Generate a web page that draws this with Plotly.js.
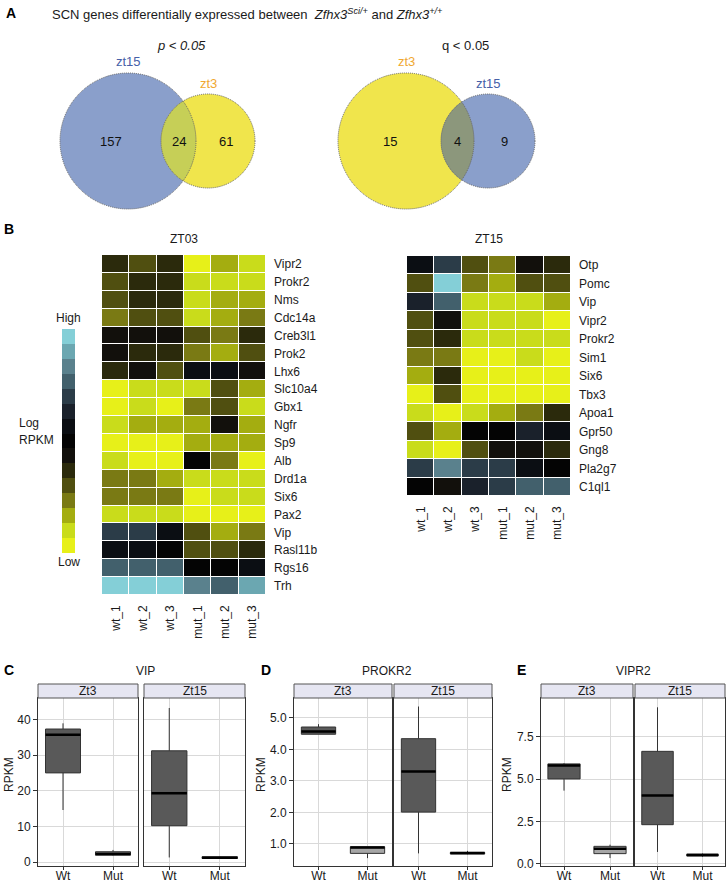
<!DOCTYPE html>
<html><head><meta charset="utf-8">
<script src="https://cdn.plot.ly/plotly-3.0.1.min.js"></script>
<style>html,body{margin:0;padding:0;background:#fff}#chart{width:726px;height:884px}</style>
</head><body><div id="chart"></div>
<script>
const W = 726, H = 884;
const px = x => x / W, py = y => 1 - y / H;
const FONT = 'Liberation Sans, Arial, Helvetica, sans-serif';

// ---------- Panel A: Venn counts ----------
const vennPSets = ['zt15', 'zt3'];
const vennPCounts = [157, 24, 61];   // zt15 only, both, zt3 only
const vennQSets = ['zt3', 'zt15'];
const vennQCounts = [15, 4, 9];      // zt3 only, both, zt15 only

// ---------- Panel B: heatmaps (colour level 0 = low ... 14 = high) ----------
const sampleLabels = ['wt_1', 'wt_2', 'wt_3', 'mut_1', 'mut_2', 'mut_3'];
const zt03Genes = ['Vipr2','Prokr2','Nms','Cdc14a','Creb3l1','Prok2','Lhx6','Slc10a4','Gbx1','Ngfr','Sp9','Alb','Drd1a','Six6','Pax2','Vip','Rasl11b','Rgs16','Trh'];
const zt03Levels = [
  [5,4,5,0,2,1],
  [4,5,5,1,1,1],
  [4,5,5,1,2,2],
  [3,4,4,1,2,3],
  [6,6,6,4,3,5],
  [6,5,5,3,2,4],
  [5,6,4,8,8,6],
  [0,1,1,1,4,2],
  [0,1,0,3,4,1],
  [1,2,2,2,6,2],
  [0,0,0,2,2,2],
  [1,0,0,7,3,0],
  [3,3,2,1,1,1],
  [3,3,3,0,1,1],
  [1,1,1,0,0,0],
  [10,10,8,4,2,3],
  [8,8,7,4,4,5],
  [11,11,11,7,7,8],
  [14,14,14,12,11,13]
];
const zt15Genes = ['Otp','Pomc','Vip','Vipr2','Prokr2','Sim1','Six6','Tbx3','Apoa1','Gpr50','Gng8','Pla2g7','C1ql1'];
const zt15Levels = [
  [8,10,4,3,6,5],
  [4,14,3,2,4,4],
  [9,11,1,1,1,2],
  [4,6,1,1,1,0],
  [4,5,1,1,1,1],
  [3,3,0,0,1,0],
  [2,5,0,0,0,0],
  [0,4,0,0,0,0],
  [1,0,1,2,3,5],
  [4,2,7,7,9,8],
  [1,0,4,6,6,5],
  [10,12,10,10,8,7],
  [7,6,9,10,11,11]
];
const levelColors = ['#e7f019','#c9dc1b','#a4ad10','#7a7a14','#504f10','#2b2a0c','#12100c','#040404',
                     '#0b0e13','#1a212b','#2b3c48','#42606c','#5a818d','#6ba7b1','#84cfd7'];

// ---------- Panels C-E: box statistics [lower, q1, median, q3, upper] ----------
const boxGroups = ['Wt', 'Mut'];
const vipZt3Wt = [14.6, 25.0, 35.7, 37.3, 38.9];
const vipZt3Mut = [1.7, 1.9, 2.3, 2.9, 3.4];
const vipZt15Wt = [1.3, 10.2, 19.3, 31.2, 43.2];
const vipZt15Mut = [0.9, 1.0, 1.2, 1.5, 1.6];
const prokr2Zt3Wt = [4.48, 4.48, 4.57, 4.71, 4.80];
const prokr2Zt3Mut = [0.55, 0.70, 0.89, 0.91, 0.91];
const prokr2Zt15Wt = [0.70, 2.01, 3.30, 4.34, 5.36];
const prokr2Zt15Mut = [0.67, 0.68, 0.71, 0.73, 0.78];
const vipr2Zt3Wt = [4.33, 5.02, 5.82, 5.91, 5.96];
const vipr2Zt3Mut = [0.35, 0.61, 0.90, 1.04, 1.14];
const vipr2Zt15Wt = [0.71, 2.32, 4.05, 6.65, 9.25];
const vipr2Zt15Mut = [0.42, 0.47, 0.53, 0.58, 0.62];

// ================= build =================
const data = [];
const shapes = [];
const annotations = [];
const layout = {
  width: W, height: H, margin: {l:0, r:0, t:0, b:0, autoexpand:false},
  paper_bgcolor: '#fff', plot_bgcolor: '#fff', showlegend: false,
  font: {family: FONT, size: 12, color: '#1a1a1a'},
  shapes: shapes, annotations: annotations
};
function ann(text, x, y, opts) {
  annotations.push(Object.assign({text: text, x: px(x), y: py(y), xref: 'paper', yref: 'paper',
    showarrow: false, xanchor: 'center', yanchor: 'middle', font: {family: FONT, size: 12, color: '#1a1a1a'}}, opts || {}));
}

// ---- Panel A ----
ann('<b>A</b>', 4, 13, {xanchor: 'left', font: {family: FONT, size: 14, color: '#000'}});
ann('SCN genes differentially expressed between  <i>Zfhx3</i><sup><i>Sci/+</i></sup> and <i>Zfhx3</i><sup><i>+/+</i></sup>', 50, 14, {xanchor: 'left', font: {family: FONT, size: 13, color: '#1a1a1a'}});
ann('<i>p < 0.05</i>', 181, 45, {font: {family: FONT, size: 13, color: '#1a1a1a'}});
ann('q < 0.05', 465, 45, {font: {family: FONT, size: 13, color: '#1a1a1a'}});

const setColors = {zt15: '#8a9fcb', zt3: '#f0e54c'};
const labelColors = {zt15: '#4660a8', zt3: '#f0a832'};

function circleShape(c, fill, line) {
  return {type: 'circle', xref: 'paper', yref: 'paper', x0: px(c[0]-c[2]), x1: px(c[0]+c[2]),
          y0: py(c[1]+c[2]), y1: py(c[1]-c[2]), fillcolor: fill, line: line, layer: 'above'};
}
function lensPath(c1, c2) {
  const d = c2[0] - c1[0];
  const a = (d*d + c1[2]*c1[2] - c2[2]*c2[2]) / (2*d);
  const h = Math.sqrt(c1[2]*c1[2] - a*a);
  const p1 = Math.atan2(h, a), p2 = Math.atan2(h, d - a);
  const pts = [], N = 60;
  for (let i = 0; i <= N; i++) { const t = -p1 + 2*p1*i/N; pts.push([c1[0] + c1[2]*Math.cos(t), c1[1] + c1[2]*Math.sin(t)]); }
  for (let i = 0; i <= N; i++) { const t = Math.PI - p2 + 2*p2*i/N; pts.push([c2[0] + c2[2]*Math.cos(t), c2[1] + c2[2]*Math.sin(t)]); }
  return 'M' + pts.map(p => px(p[0]).toFixed(5) + ',' + py(p[1]).toFixed(5)).join('L') + 'Z';
}
function venn(sets, counts, big, small, lensColor) {
  shapes.push(circleShape(big, setColors[sets[0]], {width: 0}));
  shapes.push(circleShape(small, setColors[sets[1]], {width: 0}));
  shapes.push({type: 'path', xref: 'paper', yref: 'paper', path: lensPath(big, small), fillcolor: lensColor, line: {width: 0}, layer: 'above'});
  const outline = {color: '#666', width: 1, dash: '1px,1px'};
  shapes.push(circleShape(big, 'rgba(0,0,0,0)', outline));
  shapes.push(circleShape(small, 'rgba(0,0,0,0)', outline));
  ann(sets[0], big[0], big[1] - big[2] - 11, {font: {family: FONT, size: 13, color: labelColors[sets[0]]}});
  ann(sets[1], small[0], small[1] - small[2] - 11, {font: {family: FONT, size: 13, color: labelColors[sets[1]]}});
  const lensL = small[0] - small[2], lensR = big[0] + big[2];
  ann(String(counts[0]), (big[0] - big[2] + lensL) / 2, big[1], {font: {family: FONT, size: 13, color: '#111'}});
  ann(String(counts[1]), (lensL + lensR) / 2, big[1], {font: {family: FONT, size: 13, color: '#111'}});
  ann(String(counts[2]), (lensR + small[0] + small[2]) / 2, big[1], {font: {family: FONT, size: 13, color: '#111'}});
}
venn(vennPSets, vennPCounts, [128, 141, 68], [208, 141, 47], '#c6cf57');
venn(vennQSets, vennQCounts, [406, 141, 68], [488, 141, 47], '#8c977c');

// ---- Panel B ----
ann('<b>B</b>', 2, 229, {xanchor: 'left', font: {family: FONT, size: 14, color: '#000'}});
const cs = [];
levelColors.forEach((c, i) => { cs.push([i/levelColors.length, c]); cs.push([(i+1)/levelColors.length, c]); });

data.push({type: 'heatmap', x: sampleLabels, y: zt03Genes, z: zt03Levels, xaxis: 'x', yaxis: 'y',
  colorscale: cs, zmin: -0.5, zmax: levelColors.length - 0.5, xgap: 1, ygap: 1, hoverinfo: 'skip',
  showscale: true,
  colorbar: {x: px(62), xanchor: 'left', y: py(441), yanchor: 'middle', len: 224, lenmode: 'pixels',
    thickness: 13, thicknessmode: 'pixels', outlinewidth: 0, showticklabels: false, ticks: '', xpad: 0, ypad: 0}});
data.push({type: 'heatmap', x: sampleLabels, y: zt15Genes, z: zt15Levels, xaxis: 'x2', yaxis: 'y2',
  colorscale: cs, zmin: -0.5, zmax: levelColors.length - 0.5, xgap: 1, ygap: 1, hoverinfo: 'skip', showscale: false});

function hmX(x0, x1, yId) {
  return {domain: [px(x0), px(x1)], anchor: yId, tickangle: -90, ticks: '', showgrid: false, zeroline: false,
    showline: false, ticklabelstandoff: 7, tickfont: {family: FONT, size: 12, color: '#1a1a1a'}, fixedrange: true};
}
function hmY(top, bottom, xId) {
  return {domain: [py(bottom), py(top)], anchor: xId, side: 'right', autorange: 'reversed', ticks: '',
    showgrid: false, zeroline: false, showline: false, ticklabelstandoff: 7,
    tickfont: {family: FONT, size: 12, color: '#1a1a1a'}, fixedrange: true};
}
layout.xaxis = hmX(102, 266, 'y');
layout.yaxis = hmY(255, 595, 'x');
layout.xaxis2 = hmX(407, 571, 'y2');
layout.yaxis2 = hmY(256, 496, 'x2');
ann('ZT03', 184, 239);
ann('ZT15', 489, 239);
ann('High', 68, 318);
ann('Low', 69, 562);
ann('Log', 17, 423, {xanchor: 'left'});
ann('RPKM', 17, 440, {xanchor: 'left'});

// ---- Panels C-E ----
const panels = [
  {letter: 'C', lx: 2, title: 'VIP', tx: 145, axes: [[38, 138], [144, 245]], range: [-1.1, 46], tickvals: [0,10,20,30,40], fmt: 'd',
   stats: [[vipZt3Wt, vipZt3Mut], [vipZt15Wt, vipZt15Mut]], ytx: 9},
  {letter: 'D', lx: 259, title: 'PROKR2', tx: 387, axes: [[294, 392], [394, 492]], range: [0.30, 5.63], tickvals: [1,2,3,4,5], fmt: '.1f',
   stats: [[prokr2Zt3Wt, prokr2Zt3Mut], [prokr2Zt15Wt, prokr2Zt15Mut]], ytx: 261},
  {letter: 'E', lx: 515, title: 'VIPR2', tx: 633, axes: [[541, 633], [635, 725]], range: [-0.12, 9.8], tickvals: [0,2.5,5,7.5], fmt: '.1f',
   stats: [[vipr2Zt3Wt, vipr2Zt3Mut], [vipr2Zt15Wt, vipr2Zt15Mut]], ytx: 507}
];
const facetLabels = ['Zt3', 'Zt15'];
const groupFill = ['#595959', '#a6a6a6'];
const PTOP = 698, PBOT = 866, STOP = 684;
let axN = 3;
panels.forEach(p => {
  ann('<b>' + p.letter + '</b>', p.lx, 670, {xanchor: 'left', font: {family: FONT, size: 14, color: '#000'}});
  ann(p.title, p.tx, 671);
  ann('RPKM', p.ytx, 775, {textangle: -90});
  p.axes.forEach((ax, fi) => {
    const xid = 'x' + axN, yid = 'y' + axN;
    layout['xaxis' + axN] = {domain: [px(ax[0]), px(ax[1])], anchor: yid, range: [0.5, 2.5], tickvals: [1, 2], ticktext: boxGroups,
      ticks: 'outside', ticklen: 3, tickcolor: '#333', ticklabelstandoff: -4, showgrid: true, gridcolor: '#d9d9d9', gridwidth: 1,
      showline: true, mirror: true, linecolor: '#333', linewidth: 1, zeroline: false, fixedrange: true,
      tickfont: {family: FONT, size: 12, color: '#1a1a1a'}};
    layout['yaxis' + axN] = {domain: [py(PBOT), py(PTOP)], anchor: xid, range: p.range, tickvals: p.tickvals, tickformat: p.fmt,
      ticks: fi === 0 ? 'outside' : '', ticklen: 4, tickcolor: '#333', showticklabels: fi === 0,
      showgrid: true, gridcolor: '#d9d9d9', gridwidth: 1, showline: true, mirror: true, linecolor: '#333', linewidth: 1,
      zeroline: false, fixedrange: true, tickfont: {family: FONT, size: 12, color: '#1a1a1a'}};
    shapes.push({type: 'rect', xref: 'paper', yref: 'paper', x0: px(ax[0]), x1: px(ax[1]), y0: py(PTOP), y1: py(STOP),
      fillcolor: '#e6e6f2', line: {color: '#555', width: 1}, layer: 'above'});
    ann(facetLabels[fi], (ax[0] + ax[1]) / 2, (STOP + PTOP) / 2);
    p.stats[fi].forEach((s, gi) => {
      const pos = gi + 1;
      data.push({type: 'box', x: [pos], lowerfence: [s[0]], q1: [s[1]], median: [s[2]], q3: [s[3]], upperfence: [s[4]],
        width: 0.7, whiskerwidth: 0, fillcolor: groupFill[gi], line: {color: '#333', width: 1},
        boxpoints: false, hoverinfo: 'skip', xaxis: xid, yaxis: yid});
      data.push({type: 'scatter', mode: 'lines', x: [pos - 0.35, pos + 0.35], y: [s[2], s[2]],
        line: {color: '#000', width: 2.5}, hoverinfo: 'skip', xaxis: xid, yaxis: yid});
    });
    axN++;
  });
});

Plotly.newPlot('chart', data, layout, {staticPlot: true, displayModeBar: false});
</script>
</body></html>
